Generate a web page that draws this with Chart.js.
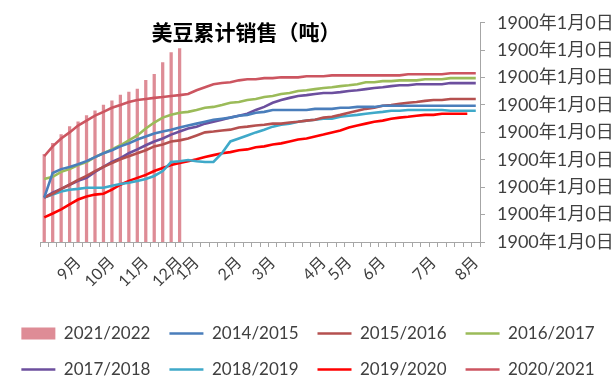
<!DOCTYPE html>
<html>
<head>
<meta charset="utf-8">
<script src="https://cdn.jsdelivr.net/npm/chart.js@4.4.0/dist/chart.umd.min.js"></script>
<style>
  html, body { margin: 0; padding: 0; background: #fff; }
  #wrap { width: 616px; height: 380px; position: relative; }
</style>
</head>
<body>
<div id="wrap"><canvas id="chart"></canvas></div>
<script>
// Weekly cumulative US soybean sales, one value per marketing-year week (Sep -> Aug)
const titleText = '美豆累计销售（吨）';
const monthNames = ['9月', '10月', '11月', '12月', '1月', '2月', '3月', '4月', '5月', '6月', '7月', '8月'];
const monthWeek = [4, 8, 12, 16, 18, 23, 27, 33, 36, 40, 46, 51];
const weekCount = 52;

const sales2122 = [3200, 3600, 3920, 4210, 4390, 4610, 4790, 5000, 5150, 5360, 5470, 5580, 5900, 6120, 6550, 6910, 7060];
const sales1415 = [1620, 2520, 2660, 2740, 2840, 2950, 3100, 3240, 3350, 3490, 3600, 3740, 3850, 3960, 4030, 4100, 4180, 4250, 4320, 4390, 4460, 4500, 4540, 4610, 4640, 4720, 4750, 4820, 4820, 4820, 4820, 4820, 4860, 4860, 4860, 4900, 4900, 4930, 4930, 4930, 4970, 4970, 4970, 4970, 4970, 4970, 4970, 4970, 4970, 4970, 4970, 4970];
const sales1516 = [1620, 1760, 1940, 2090, 2270, 2410, 2590, 2740, 2880, 3020, 3130, 3240, 3350, 3490, 3560, 3670, 3710, 3780, 3890, 4000, 4030, 4070, 4100, 4180, 4210, 4250, 4280, 4320, 4320, 4360, 4390, 4430, 4460, 4540, 4570, 4640, 4720, 4790, 4860, 4900, 4970, 5000, 5040, 5080, 5110, 5150, 5180, 5180, 5220, 5220, 5220, 5220];
const sales1617 = [2300, 2380, 2560, 2660, 2810, 2920, 3100, 3240, 3380, 3530, 3710, 3890, 4140, 4360, 4540, 4640, 4720, 4750, 4820, 4900, 4930, 5000, 5080, 5110, 5180, 5220, 5290, 5330, 5400, 5440, 5510, 5540, 5580, 5620, 5650, 5690, 5720, 5760, 5830, 5830, 5870, 5870, 5900, 5900, 5900, 5940, 5940, 5940, 5980, 5980, 5980, 5980];
const sales1718 = [1620, 1800, 1940, 2090, 2230, 2340, 2560, 2740, 2920, 3060, 3240, 3380, 3530, 3670, 3780, 3920, 4030, 4140, 4210, 4320, 4390, 4460, 4540, 4610, 4680, 4820, 4930, 5080, 5180, 5260, 5330, 5360, 5400, 5440, 5440, 5470, 5510, 5540, 5580, 5620, 5650, 5690, 5720, 5720, 5760, 5760, 5760, 5760, 5800, 5800, 5800, 5800];
const sales1819 = [1620, 1730, 1840, 1910, 1940, 1980, 1980, 1980, 2050, 2120, 2160, 2230, 2300, 2410, 2590, 2920, 2950, 2990, 2950, 2920, 2920, 3240, 3670, 3780, 3890, 4000, 4100, 4210, 4280, 4320, 4390, 4430, 4460, 4500, 4500, 4570, 4610, 4640, 4680, 4720, 4750, 4790, 4790, 4820, 4820, 4820, 4820, 4820, 4790, 4790, 4790, 4790];
const sales1920 = [900, 1040, 1190, 1370, 1550, 1660, 1730, 1760, 1910, 2090, 2230, 2340, 2450, 2590, 2700, 2810, 2880, 2950, 3020, 3100, 3170, 3240, 3280, 3350, 3380, 3460, 3490, 3560, 3600, 3670, 3740, 3780, 3850, 3920, 4000, 4070, 4180, 4250, 4320, 4390, 4430, 4500, 4540, 4570, 4610, 4640, 4640, 4680, 4680, 4680, 4680, null];
const sales2021 = [3130, 3490, 3780, 4000, 4250, 4430, 4610, 4750, 4900, 5000, 5110, 5180, 5220, 5260, 5290, 5330, 5360, 5400, 5540, 5650, 5760, 5800, 5830, 5900, 5940, 5940, 5980, 5980, 6010, 6010, 6010, 6050, 6050, 6050, 6080, 6080, 6080, 6080, 6080, 6080, 6080, 6080, 6080, 6120, 6120, 6120, 6120, 6120, 6160, 6160, 6160, 6160];

const yMin = 0, yMax = 8000, yStep = 1000;
const yTickText = '1900年1月0日';

// only some weeks carry a month name
const weekLabels = [];
for (let i = 0; i < weekCount; i++) {
    const m = monthWeek.indexOf(i);
    weekLabels.push(m >= 0 ? monthNames[m] : '');
}

const textFont = "Lato, 'Noto Sans CJK SC', sans-serif";
const textColor = '#404040';
const axisColor = '#a6a6a6';

const lineSet = (label, data, color) => ({
    type: 'line', label, data,
    borderColor: color, backgroundColor: color,
    borderWidth: 2.6, pointRadius: 0, pointStyle: 'line',
    tension: 0, spanGaps: false, order: 0
});

// title sits inside the plot, like the spreadsheet original
const plotTitle = {
    id: 'plotTitle',
    afterDraw(chart) {
        const ctx = chart.ctx;
        ctx.save();
        ctx.font = "bold 21px 'Noto Sans CJK SC', sans-serif";
        ctx.fillStyle = '#000';
        ctx.textAlign = 'center';
        ctx.textBaseline = 'middle';
        ctx.fillText(titleText, 246, 32);
        ctx.restore();
    }
};

new Chart(document.getElementById('chart'), {
    data: {
        labels: weekLabels,
        datasets: [
            {
                type: 'bar', label: '2021/2022', data: sales2122,
                backgroundColor: 'rgb(222,140,150)', borderWidth: 0,
                barThickness: 2.6, pointStyle: 'rect', order: 1
            },
            lineSet('2014/2015', sales1415, '#4a7ebb'),
            lineSet('2015/2016', sales1516, '#b5504f'),
            lineSet('2016/2017', sales1617, '#9bbb59'),
            lineSet('2017/2018', sales1718, '#6c4f9e'),
            lineSet('2018/2019', sales1819, '#3fa9c9'),
            lineSet('2019/2020', sales1920, '#ff0000'),
            lineSet('2020/2021', sales2021, '#cc5560')
        ]
    },
    plugins: [plotTitle],
    options: {
        responsive: true,
        maintainAspectRatio: false,
        animation: false,
        layout: { padding: { left: 0, top: 20, right: 0, bottom: -8 } },
        scales: {
            x: {
                type: 'category',
                offset: true,
                grid: { offset: true, drawOnChartArea: false, drawTicks: true, tickLength: 5, color: axisColor },
                border: { color: axisColor },
                ticks: {
                    autoSkip: false, maxRotation: 45, minRotation: 45, padding: 6,
                    color: textColor, font: { family: textFont, size: 16 }
                },
                afterFit: (scale) => { scale.height = 64; }
            },
            // empty spacer on the left so the legend keeps the full width
            spacer: {
                type: 'linear',
                position: 'left',
                display: true,
                grid: { display: false },
                border: { display: false },
                ticks: { display: false },
                afterFit: (scale) => { scale.width = 40; }
            },
            y: {
                type: 'linear',
                position: 'right',
                min: yMin, max: yMax,
                grid: { drawOnChartArea: false, drawTicks: true, tickLength: 5, color: axisColor },
                border: { color: axisColor },
                ticks: {
                    stepSize: yStep, padding: 12,
                    color: textColor, font: { family: textFont, size: 18 },
                    callback: () => yTickText
                },
                afterFit: (scale) => { scale.width = 136; }
            }
        },
        plugins: {
            title: { display: false },
            tooltip: { enabled: false },
            legend: {
                position: 'bottom',
                labels: {
                    usePointStyle: true,
                    pointStyleWidth: 34,
                    boxHeight: 12,
                    padding: 19,
                    color: textColor,
                    font: { family: textFont, size: 17 },
                    sort: (a, b) => a.datasetIndex - b.datasetIndex
                }
            }
        }
    }
});
</script>
</body>
</html>
